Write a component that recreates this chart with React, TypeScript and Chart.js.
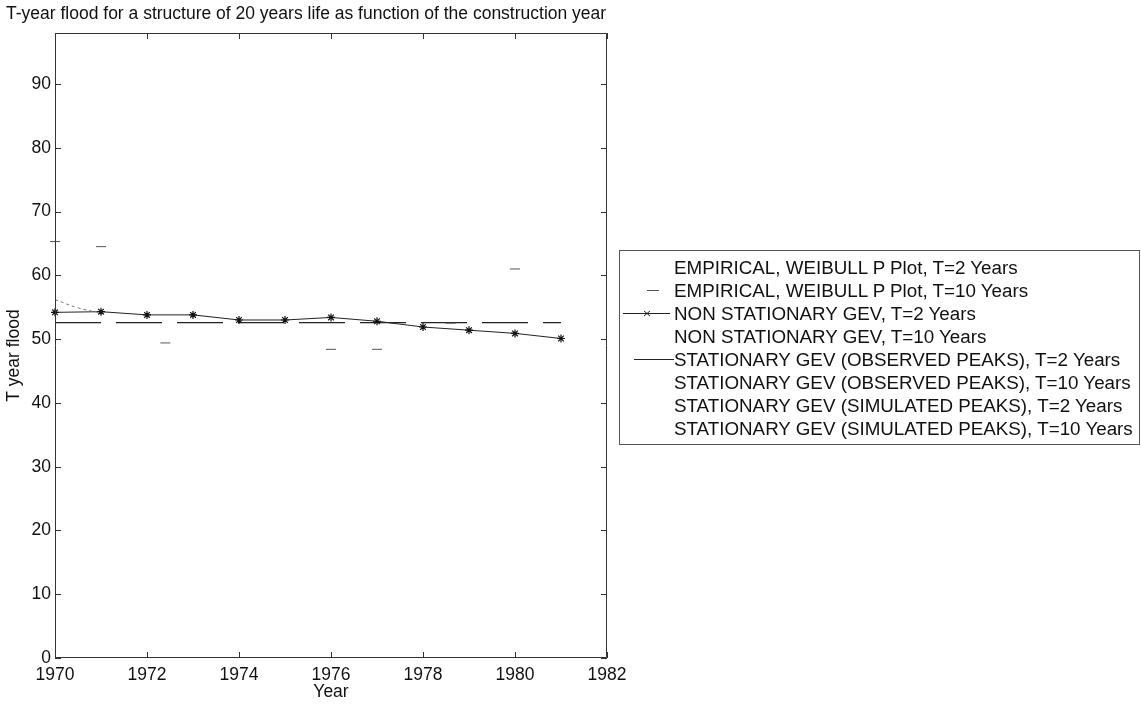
import React, { useEffect, useRef } from "react";
import { Chart, registerables } from "chart.js";

Chart.register(...registerables);

// Construction years (x) and axis tick values
const years = [1970, 1971, 1972, 1973, 1974, 1975, 1976, 1977, 1978, 1979, 1980, 1981];
const xTickValues = [1970, 1972, 1974, 1976, 1978, 1980, 1982];
const yTickValues = [0, 10, 20, 30, 40, 50, 60, 70, 80, 90];

// Non-stationary GEV, T = 2 years
const nonStationaryT2 = [54.2, 54.3, 53.8, 53.8, 53.0, 53.0, 53.4, 52.8, 51.9, 51.4, 50.9, 50.1];

// Stationary GEV fitted on observed peaks, T = 2 years
const stationaryObservedT2 = [52.6, 52.6, 52.6, 52.6, 52.6, 52.6, 52.6, 52.6, 52.6, 52.6, 52.6, 52.6];

// Empirical (Weibull plotting position), T = 2 years
const empiricalT2Years = [1970, 1970.5, 1971];
const empiricalT2 = [56.2, 54.9, 54.1];

// Empirical (Weibull plotting position), T = 10 years
const empiricalT10Years = [1970, 1971, 1972.4, 1976, 1977, 1978.6, 1980];
const empiricalT10 = [65.3, 64.5, 49.4, 48.4, 48.4, 52.5, 61.0];

const legendLabels = [
  "EMPIRICAL, WEIBULL P Plot, T=2 Years",
  "EMPIRICAL, WEIBULL P Plot, T=10 Years",
  "NON STATIONARY GEV, T=2 Years",
  "NON STATIONARY GEV, T=10 Years",
  "STATIONARY GEV (OBSERVED PEAKS), T=2 Years",
  "STATIONARY GEV (OBSERVED PEAKS), T=10 Years",
  "STATIONARY GEV (SIMULATED PEAKS), T=2 Years",
  "STATIONARY GEV (SIMULATED PEAKS), T=10 Years",
];

const chartTitle = "T-year flood for a structure of 20 years life as function of the construction year";
const xAxisTitle = "Year";
const yAxisTitle = "T year flood";

const FONT = "'Liberation Sans', Arial, Helvetica, sans-serif";
const INK = "#111";

const pairs = (xs: number[], ys: number[]) => xs.map((x, i) => ({ x, y: ys[i] }));

// Axes box with inward tick marks on all four sides, plus the rotated y label
const framePlugin = {
  id: "frameBox",
  afterDatasetsDraw(chart: any) {
    const { ctx, chartArea, scales } = chart;
    const { left, right, top, bottom } = chartArea;
    const tick = 6;
    ctx.save();
    ctx.strokeStyle = "#333";
    ctx.lineWidth = 1;
    ctx.beginPath();
    ctx.rect(left + 0.5, top + 0.5, right - left - 1, bottom - top - 1);
    for (const v of xTickValues) {
      const px = Math.round(scales.x.getPixelForValue(v)) + 0.5;
      ctx.moveTo(px, bottom);
      ctx.lineTo(px, bottom - tick);
      ctx.moveTo(px, top);
      ctx.lineTo(px, top + tick);
    }
    for (const v of yTickValues) {
      const py = Math.round(scales.y.getPixelForValue(v)) + 0.5;
      ctx.moveTo(left, py);
      ctx.lineTo(left + tick, py);
      ctx.moveTo(right, py);
      ctx.lineTo(right - tick, py);
    }
    ctx.stroke();

    // y-axis title, a little below the axis centre
    const midY = (top + bottom) / 2 + 10;
    ctx.translate(14, midY);
    ctx.rotate(-Math.PI / 2);
    ctx.fillStyle = INK;
    ctx.font = `17.5px ${FONT}`;
    ctx.textAlign = "center";
    ctx.textBaseline = "middle";
    ctx.fillText(yAxisTitle, 0, 0);
    ctx.restore();
  },
};

function LegendSample({ kind }: { kind: string }) {
  if (kind === "dash") {
    return (
      <svg width="54" height="23">
        <line x1="27" y1="11.5" x2="39" y2="11.5" stroke="#555" strokeWidth="1" />
      </svg>
    );
  }
  if (kind === "star") {
    return (
      <svg width="54" height="23">
        <line x1="3" y1="11.5" x2="50" y2="11.5" stroke="#222" strokeWidth="1" />
        <line x1="24" y1="9" x2="30" y2="14" stroke="#222" strokeWidth="1" />
        <line x1="24" y1="14" x2="30" y2="9" stroke="#222" strokeWidth="1" />
      </svg>
    );
  }
  if (kind === "solid") {
    return (
      <svg width="54" height="23">
        <line x1="14" y1="11.5" x2="54" y2="11.5" stroke="#222" strokeWidth="1" />
      </svg>
    );
  }
  return <svg width="54" height="23" />;
}

const sampleKinds = ["none", "dash", "star", "none", "solid", "none", "none", "none"];

export default function App() {
  const canvasRef = useRef<HTMLCanvasElement | null>(null);

  useEffect(() => {
    if (!canvasRef.current) return;
    Chart.defaults.font.family = FONT;
    Chart.defaults.color = INK;

    const chart = new Chart(canvasRef.current, {
      type: "line",
      data: {
        datasets: [
          {
            label: legendLabels[0],
            data: pairs(empiricalT2Years, empiricalT2),
            borderColor: "#777",
            borderWidth: 1,
            borderDash: [3, 3],
            pointRadius: 0,
            tension: 0.4,
          },
          {
            label: legendLabels[1],
            data: pairs(empiricalT10Years, empiricalT10),
            showLine: false,
            pointStyle: "line",
            pointRadius: 5,
            pointBorderColor: "#555",
            pointBorderWidth: 1,
            clip: 8,
          },
          {
            label: legendLabels[2],
            data: pairs(years, nonStationaryT2),
            borderColor: "#222",
            borderWidth: 1,
            pointStyle: "star",
            pointRadius: 4,
            pointBorderColor: "#111",
            pointBorderWidth: 1.2,
            clip: 8,
          },
          {
            label: legendLabels[4],
            data: pairs(years, stationaryObservedT2),
            borderColor: "#222",
            borderWidth: 1.2,
            borderDash: [46, 15],
            pointRadius: 0,
          },
        ],
      },
      options: {
        responsive: false,
        animation: false,
        events: [],
        layout: { padding: { top: 33, right: 534, left: 0, bottom: 0 } },
        plugins: {
          legend: { display: false },
          title: { display: false },
          tooltip: { enabled: false },
        },
        scales: {
          x: {
            type: "linear",
            min: 1970,
            max: 1982,
            afterBuildTicks: (s: any) => {
              s.ticks = xTickValues.map((v) => ({ value: v }));
            },
            afterFit: (s: any) => {
              s.height = 46;
            },
            grid: { display: false, drawTicks: false },
            border: { display: false },
            ticks: {
              padding: 7,
              maxRotation: 0,
              autoSkip: false,
              color: INK,
              font: { size: 17.5 },
              callback: (v: any) => String(v),
            },
            title: {
              display: true,
              text: xAxisTitle,
              color: INK,
              font: { size: 17.5 },
              padding: { top: 0, bottom: 1 },
            },
          },
          y: {
            type: "linear",
            min: 0,
            max: 98,
            afterBuildTicks: (s: any) => {
              s.ticks = yTickValues.map((v) => ({ value: v }));
            },
            afterFit: (s: any) => {
              s.width = 55;
            },
            grid: { display: false, drawTicks: false },
            border: { display: false },
            ticks: {
              padding: 4,
              autoSkip: false,
              color: INK,
              font: { size: 17.5 },
              callback: (v: any) => String(v),
            },
          },
        },
      },
      plugins: [framePlugin],
    });

    return () => chart.destroy();
  }, []);

  return (
    <div
      style={{
        position: "absolute",
        left: 0,
        top: 0,
        width: 1141,
        height: 704,
        background: "#fff",
        fontFamily: FONT,
        color: INK,
      }}
    >
      <canvas ref={canvasRef} width={1141} height={704} style={{ display: "block" }} />
      <div
        style={{
          position: "absolute",
          left: 6,
          top: 2,
          fontSize: 17.5,
          lineHeight: "22px",
          whiteSpace: "nowrap",
        }}
      >
        {chartTitle}
      </div>
      <div
        style={{
          position: "absolute",
          left: 619,
          top: 250,
          width: 521,
          height: 195,
          border: "1px solid #555",
          boxSizing: "border-box",
          paddingTop: 5,
        }}
      >
        {legendLabels.map((label, i) => (
          <div
            key={label}
            style={{
              display: "flex",
              alignItems: "center",
              height: 23,
              fontSize: 18.8,
              whiteSpace: "nowrap",
            }}
          >
            <LegendSample kind={sampleKinds[i]} />
            <span>{label}</span>
          </div>
        ))}
      </div>
    </div>
  );
}
